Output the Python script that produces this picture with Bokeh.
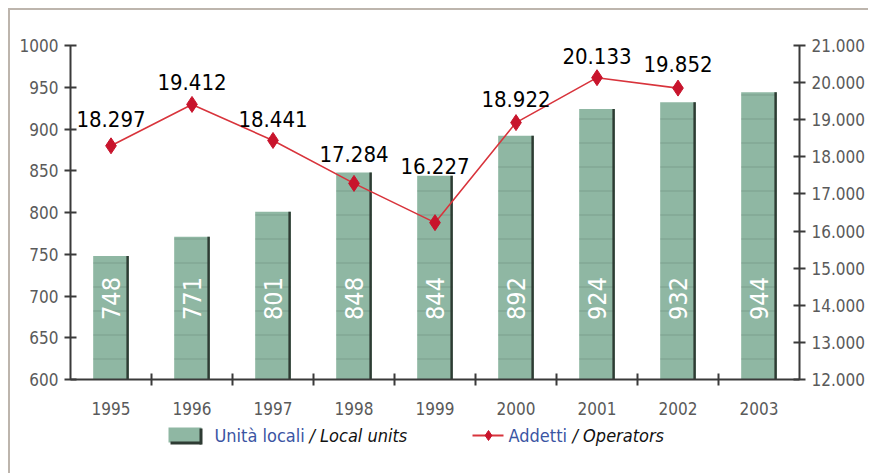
import math
from bokeh.plotting import figure
from bokeh.layouts import column
from bokeh.models import (Range1d, LinearAxis, FixedTicker, CustomJSTickFormatter,
                          ColumnDataSource)
from bokeh.core.properties import value
from bokeh.transform import dodge
from bokeh.embed import file_html
from bokeh.resources import INLINE

years = [1995, 1996, 1997, 1998, 1999, 2000, 2001, 2002, 2003]
local_units = [748, 771, 801, 848, 844, 892, 924, 932, 944]
op_years = [1995, 1996, 1997, 1998, 1999, 2000, 2001, 2002]
operators = [18297, 19412, 18441, 17284, 16227, 18922, 20133, 19852]
op_labels = ["18.297", "19.412", "18.441", "17.284", "16.227", "18.922", "20.133", "19.852"]
left_ticks = [600, 650, 700, 750, 800, 850, 900, 950, 1000]
right_ticks = [12000, 13000, 14000, 15000, 16000, 17000, 18000, 19000, 20000, 21000]

FONT = "DejaVu Sans Condensed, Roboto"
BAR = "#8fb7a3"
DARK = "#2e3b33"
RED = "#d8343c"
MRED = "#c8142c"
BLUE = "#3b55a3"
AXIS = "#3a3a3a"
FRAME = "2px solid #bdb5ad"

W, H = 860, 410
FL, FR, FT, FB = 60, 789, 35, 369  # frame edges on canvas

p = figure(width=W, height=H, output_backend="svg", toolbar_location=None,
           x_range=Range1d(years[0] - 0.5, years[-1] + 0.5),
           y_range=Range1d(left_ticks[0], left_ticks[-1]),
           min_border_left=FL, min_border_right=W - FR, min_border_top=FT,
           min_border_bottom=H - FB, x_axis_type=None, y_axis_type=None)
p.outline_line_color = None
p.grid.visible = False
p.styles = {"border-top": FRAME, "border-left": FRAME}
p.extra_y_ranges = {"ops": Range1d(right_ticks[0], right_ticks[-1])}

def style_axis(ax):
    ax.axis_line_color = AXIS
    ax.axis_line_width = 2
    ax.major_tick_line_color = AXIS
    ax.major_tick_line_width = 2
    ax.major_tick_in = 6
    ax.major_tick_out = 6
    ax.minor_tick_line_color = None
    ax.major_label_text_font = FONT
    ax.major_label_text_font_size = "17px"
    ax.major_label_text_color = "#5a5a5a"
    ax.major_label_standoff = 6

yl = LinearAxis(ticker=FixedTicker(ticks=left_ticks))
style_axis(yl)
p.add_layout(yl, "left")

yr = LinearAxis(y_range_name="ops", ticker=FixedTicker(ticks=right_ticks),
                formatter=CustomJSTickFormatter(code="return (tick/1000).toFixed(3);"))
style_axis(yr)
p.add_layout(yr, "right")

xa = LinearAxis(ticker=FixedTicker(ticks=years, minor_ticks=[y + 0.5 for y in years[:-1]]),
                formatter=CustomJSTickFormatter(code="return tick.toFixed(0);"))
style_axis(xa)
xa.major_tick_line_color = None
xa.minor_tick_line_color = AXIS
xa.minor_tick_line_width = 2
xa.minor_tick_in = 6
xa.minor_tick_out = 6
xa.major_label_standoff = 16
p.add_layout(xa, "below")

src = ColumnDataSource(dict(x=years, top=local_units,
                            lab=[str(v) for v in local_units]))
p.vbar(x="x", top="top", bottom=left_ticks[0], width=0.44, source=src,
       fill_color=BAR, line_color=None,
       hatch_pattern="horizontal_line", hatch_color="#5e7d6d", hatch_alpha=0.4,
       hatch_scale=24, hatch_weight=1)
p.vbar(x=dodge("x", 0.205, range=p.x_range), top="top", bottom=left_ticks[0],
       width=0.03, source=src, fill_color=DARK, line_color=None)
p.text(x="x", y=697, text="lab", source=src, angle=math.pi / 2,
       text_align="center", text_baseline="middle", text_color="white",
       text_font=value(FONT), text_font_size="25px")

label_dy = [-19, -14, -13, -21, -49, -16, -14, -16]
osrc = ColumnDataSource(dict(x=op_years, y=operators, lab=op_labels, dy=label_dy))
p.line(x="x", y="y", source=osrc, y_range_name="ops", line_color=RED, line_width=1.6)
p.scatter(x="x", y="y", source=osrc, y_range_name="ops", marker="diamond",
          size=16, fill_color=MRED, line_color=MRED)
p.text(x="x", y="y", text="lab", source=osrc, y_range_name="ops",
       y_offset="dy", text_align="center", text_baseline="bottom",
       text_color="black", text_font=value(FONT), text_font_size="22px")

# legend strip: frame aligned with the main frame, x in canvas pixels, y down
LH = 55
lg = figure(width=W, height=LH, output_backend="svg", toolbar_location=None,
            x_range=Range1d(FL, FR), y_range=Range1d(LH, 0),
            min_border_left=FL, min_border_right=W - FR, min_border_top=0,
            min_border_bottom=0, x_axis_type=None, y_axis_type=None)
lg.outline_line_color = None
lg.grid.visible = False
lg.styles = {"border-left": FRAME}
cy = 17
lg.quad(left=[158], right=[191], top=[cy - 8], bottom=[cy + 7], fill_color=BAR,
        line_color=None)
lg.quad(left=[160], right=[191], top=[cy + 6], bottom=[cy + 9], fill_color=DARK,
        line_color=None)
lg.quad(left=[189], right=[192], top=[cy - 7], bottom=[cy + 9], fill_color=DARK,
        line_color=None)
lg.segment(x0=[462], y0=[cy], x1=[493], y1=[cy], line_color=RED, line_width=2)
lg.scatter(x=[478], y=[cy], marker="diamond", size=10, fill_color=MRED, line_color=MRED)
leg_text = ["Unità locali", "/ Local units", "Addetti", "/ Operators"]
leg_x = [204, 299, 498, 562]
leg_col = [BLUE, "#111111", BLUE, "#111111"]
leg_style = ["normal", "italic", "normal", "italic"]
lg.text(x=leg_x, y=[cy] * 4, text=leg_text, text_color=leg_col,
        text_font_style=leg_style, text_font=value(FONT), text_font_size="18px",
        text_baseline="middle", text_align="left")

open("out.html", "w").write(file_html(column(p, lg, spacing=0, margin=(8, 0, 0, 8)), INLINE))
